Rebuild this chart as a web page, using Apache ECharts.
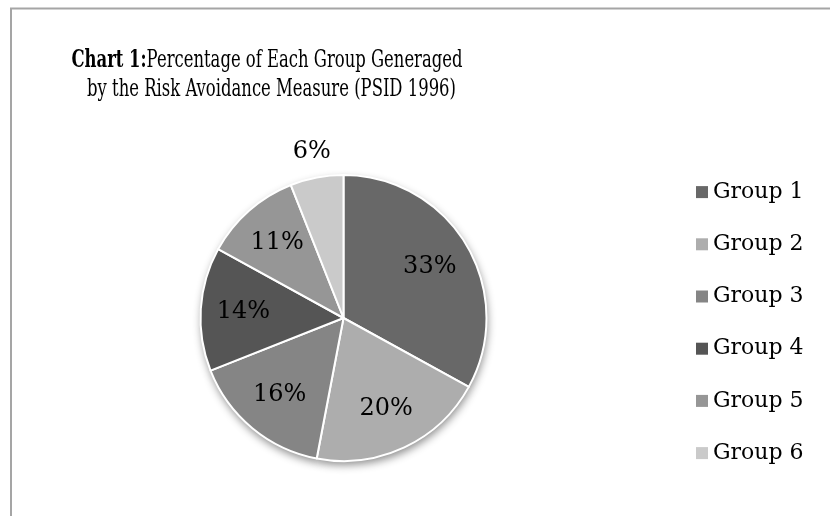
<!DOCTYPE html>
<html>
<head>
<meta charset="utf-8">
<script src="https://cdn.jsdelivr.net/npm/echarts@6/dist/echarts.min.js"></script>
<style>html,body{margin:0;padding:0;background:#fff;}#chart{width:830px;height:516px;}</style>
</head>
<body>
<div id="chart"></div>
<script>
var categories = ['Group 1', 'Group 2', 'Group 3', 'Group 4', 'Group 5', 'Group 6'];
var values = [33, 20, 16, 14, 11, 6];
var colors = ['#686868', '#adadad', '#858585', '#555555', '#969696', '#cacaca'];
var titleLine1Bold = 'Chart 1:';
var titleLine1 = 'Percentage of Each Group Generaged';
var titleLine2 = 'by the Risk Avoidance Measure (PSID 1996)';

var chart = echarts.init(document.getElementById('chart'), null, {renderer: 'canvas'});
var center = [343.5, 318];
var R = 143;
var small = function (v) { return v < 8; };

function baseData(opts) {
  return categories.map(function (n, i) {
    return Object.assign({name: n, value: values[i], itemStyle: {color: colors[i]}}, opts ? opts(i) : {});
  });
}
var labelFont = {fontFamily: 'DejaVu Serif', fontSize: 24, color: '#000'};
var TF = 25, TS = 0.657;

var option = {
  backgroundColor: '#fff',
  animation: false,
  graphic: [
    {type: 'rect', shape: {x: 11, y: 8.5, width: 1000, height: 1000}, style: {fill: 'none', stroke: '#a5a5a5', lineWidth: 2}, silent: true},
    {type: 'text', x: 267, y: 60.5, scaleX: TS, silent: true,
      style: {text: '{b|' + titleLine1Bold + '}{r|' + titleLine1 + '}', align: 'center', verticalAlign: 'middle',
        rich: {b: {fontFamily: 'DejaVu Serif', fontSize: TF, fontWeight: 'bold', fill: '#000'},
               r: {fontFamily: 'DejaVu Serif', fontSize: TF, fill: '#000'}}}},
    {type: 'text', x: 271.5, y: 89.5, scaleX: TS, silent: true,
      style: {text: titleLine2, align: 'center', verticalAlign: 'middle', fontFamily: 'DejaVu Serif', fontSize: TF, fill: '#000'}}
  ],
  legend: {
    orient: 'vertical', left: 691, top: 176, itemWidth: 12, itemHeight: 12, itemGap: 30,
    icon: 'rect', selectedMode: false,
    data: categories.map(function (n, i) { return {name: n, itemStyle: {color: colors[i]}}; }),
    textStyle: {fontFamily: 'DejaVu Serif', fontSize: 22, color: '#000', lineHeight: 22.2, padding: [0, 0, 0, 0]}
  },
  series: [
    {type: 'pie', name: 'shadow', center: center, radius: [0, R], startAngle: 90, silent: true,
      label: {show: false}, labelLine: {show: false}, emphasis: {disabled: true},
      itemStyle: {shadowBlur: 8, shadowOffsetY: 4, shadowOffsetX: 1, shadowColor: 'rgba(0,0,0,0.45)'},
      data: baseData()},
    {type: 'pie', name: 'main', center: center, radius: [0, R], startAngle: 90, silent: true,
      label: {show: false}, labelLine: {show: false}, emphasis: {disabled: true},
      itemStyle: {borderColor: '#fff', borderWidth: 2},
      data: baseData()},
    {type: 'pie', name: 'labelsIn', center: center, radius: [0, R * 1.36], startAngle: 90, silent: true,
      emphasis: {disabled: true}, labelLine: {show: false},
      label: Object.assign({show: true, position: 'inside', formatter: '{c}%'}, labelFont),
      data: baseData(function (i) { return {itemStyle: {color: 'rgba(0,0,0,0)'}, label: {show: !small(values[i])}}; })},
    {type: 'pie', name: 'labelsOut', center: center, radius: [0, R * 2.32], startAngle: 90, silent: true,
      emphasis: {disabled: true}, labelLine: {show: false},
      label: Object.assign({show: true, position: 'inside', formatter: '{c}%'}, labelFont),
      data: baseData(function (i) { return {itemStyle: {color: 'rgba(0,0,0,0)'}, label: {show: small(values[i])}}; })}
  ]
};
chart.setOption(option);
</script>
</body>
</html>
